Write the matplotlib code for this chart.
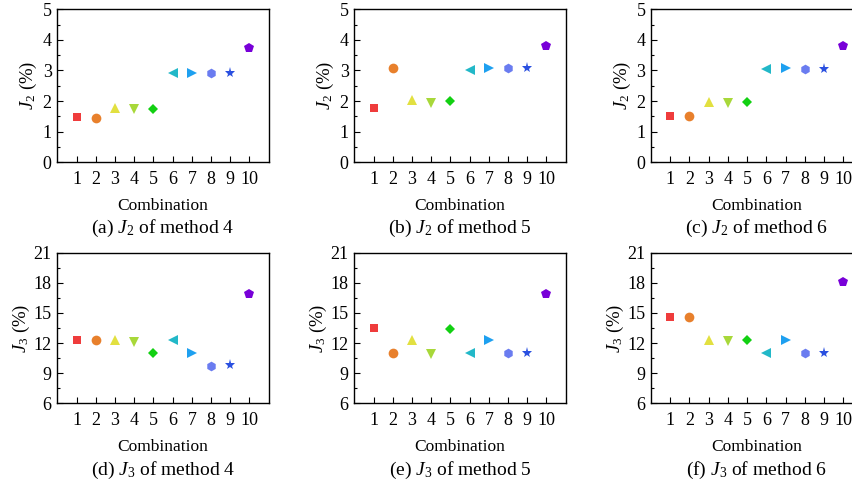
import matplotlib
matplotlib.use("Agg")
import matplotlib.pyplot as plt
from matplotlib.ticker import MultipleLocator

plt.rcParams['font.family'] = ['Liberation Serif', 'DejaVu Serif']
plt.rcParams['mathtext.fontset'] = 'custom'
plt.rcParams['mathtext.rm'] = 'Liberation Serif'
plt.rcParams['mathtext.it'] = 'Liberation Serif:italic'

combos = [1, 2, 3, 4, 5, 6, 7, 8, 9, 10]
j2_m4 = [1.48, 1.44, 1.78, 1.73, 1.75, 2.91, 2.91, 2.91, 2.93, 3.72]
j2_m5 = [1.76, 3.09, 2.03, 1.95, 2.01, 3.00, 3.09, 3.09, 3.09, 3.81]
j2_m6 = [1.52, 1.50, 1.98, 1.95, 1.98, 3.05, 3.07, 3.06, 3.06, 3.79]
j3_m4 = [12.3, 12.3, 12.3, 12.15, 11.0, 12.3, 11.0, 9.75, 9.78, 16.9]
j3_m5 = [13.47, 11.0, 12.3, 10.9, 13.43, 11.0, 12.27, 11.0, 11.0, 16.9]
j3_m6 = [14.56, 14.63, 12.3, 12.2, 12.27, 11.0, 12.27, 11.0, 11.0, 18.08]

colors = ['#ef3c3c', '#e8802c', '#e2e040', '#a8d83a', '#12d012',
          '#22b8c8', '#1ea0f0', '#6a7cf0', '#2a50e0', '#7800d8']
markers = ['s', 'o', '^', 'v', 'D', '<', '>', 'h', '*', 'p']
msizes = [5.5, 7, 7.5, 7.5, 5.5, 7.5, 7.5, 7, 8, 7.5]

panels = [
    (j2_m4, '$J_2$ (%)', '(a) $J_2$ of method 4', (0, 5), 1, 0.5),
    (j2_m5, '$J_2$ (%)', '(b) $J_2$ of method 5', (0, 5), 1, 0.5),
    (j2_m6, '$J_2$ (%)', '(c) $J_2$ of method 6', (0, 5), 1, 0.5),
    (j3_m4, '$J_3$ (%)', '(d) $J_3$ of method 4', (6, 21), 3, 1.5),
    (j3_m5, '$J_3$ (%)', '(e) $J_3$ of method 5', (6, 21), 3, 1.5),
    (j3_m6, '$J_3$ (%)', '(f) $J_3$ of method 6', (6, 21), 3, 1.5),
]

W, H = 853, 486
fig = plt.figure(figsize=(W / 100, H / 100), dpi=100)

lefts = [57.3, 354.3, 651.0]
aw = 211.4
rows = [(9.3, 162.3), (252.7, 403.3)]
comb_y = [206, 447]
cap_y = [228, 470]
ylab_off = [-29, -36]

for i, (vals, ylab, cap, ylim, maj, mnr) in enumerate(panels):
    r, c = divmod(i, 3)
    top, bot = rows[r]
    ax = fig.add_axes([lefts[c] / W, 1 - bot / H, aw / W, (bot - top) / H])
    for x, y, col, mk, ms in zip(combos, vals, colors, markers, msizes):
        ax.plot([x], [y], linestyle='none', marker=mk, color=col,
                markersize=ms, markeredgewidth=0, clip_on=False)
    ax.set_xlim(0, 11)
    ax.set_ylim(*ylim)
    ax.set_xticks(combos)
    ax.yaxis.set_major_locator(MultipleLocator(maj))
    ax.yaxis.set_minor_locator(MultipleLocator(mnr))
    ax.tick_params(axis='both', which='both', direction='in', labelsize=13,
                   width=0.8, color='black')
    ax.tick_params(axis='x', which='major', length=4.5, pad=6)
    ax.tick_params(axis='y', which='major', length=4, pad=4)
    ax.tick_params(axis='y', which='minor', length=2.5)
    for s in ax.spines.values():
        s.set_linewidth(1.0)
    cx = (lefts[c] + aw / 2) / W
    fig.text(cx, 1 - comb_y[r] / H, 'Combination', ha='center', va='center',
             fontsize=12.5)
    fig.text(cx, 1 - cap_y[r] / H, cap, ha='center', va='center', fontsize=14)
    fig.text((lefts[c] + ylab_off[r]) / W, 1 - (top + bot) / 2 / H, ylab,
             rotation=90, ha='center', va='center', fontsize=13.5)

fig.savefig('out.png', dpi=100)
